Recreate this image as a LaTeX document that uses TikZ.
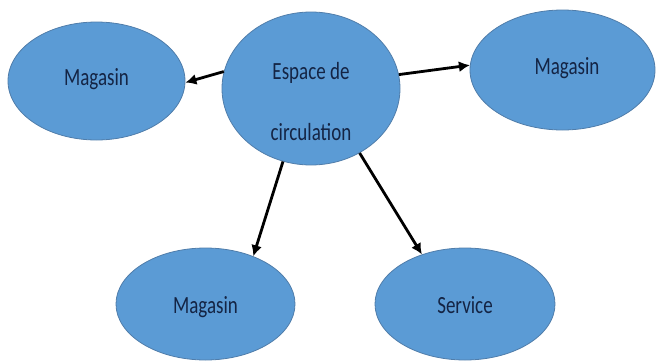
\documentclass[tikz,border=0pt]{standalone}
\usepackage{fontspec}
\setmainfont{Carlito}
\usepackage{graphicx}
\usepackage{tikz}
\usetikzlibrary{shapes.geometric, arrows.meta, positioning, calc}
\definecolor{zoneblue}{RGB}{91,155,213}
\definecolor{zoneedge}{RGB}{80,125,170}
\definecolor{labelnavy}{RGB}{20,36,68}
\newcommand{\tallword}[1]{\scalebox{1}[1.3]{#1}}

\begin{document}
\begin{tikzpicture}[x=1pt,y=-1pt,
  zone/.style={ellipse, fill=zoneblue, draw=zoneedge, line width=0.8pt, inner sep=0pt},
  txt/.style={anchor=base, text=labelnavy, font=\fontsize{19}{23}\selectfont},
  link/.style={line width=2.8pt, -{Latex[length=11pt,width=11pt]}}]
  \useasboundingbox (0,0) rectangle (656,362);
  % central zone
  \node[zone, minimum width=178pt, minimum height=153pt,
        label={[txt, yshift=15.5pt]center:\tallword{Espace de}},
        label={[txt, yshift=-43.5pt]center:\tallword{circulation}}] (espace) at (311,88.5) {};
  % surrounding zones
  \node[zone, minimum width=177pt, minimum height=118pt,
        label={[txt, yshift=2pt]center:\tallword{Magasin}}] (magouest) at (96.5,81) {};
  \node[zone, minimum width=185pt, minimum height=120pt,
        label={[txt, xshift=4.5pt, yshift=2pt]center:\tallword{Magasin}}] (magest) at (562.5,70) {};
  \node[zone, minimum width=179pt, minimum height=112pt,
        label={[txt, yshift=-3pt]center:\tallword{Magasin}}] (magsud) at (205.5,304) {};
  \node[zone, minimum width=180pt, minimum height=112pt,
        label={[txt, yshift=-1pt]center:\tallword{Service}}] (service) at (465,304) {};
  % links
  \draw[link] (espace.169) -- (magouest.-1);
  \draw[link] (espace.9) -- (magest.177);
  \draw[link] (espace.249) -- (magsud.45);
  \draw[link] (espace.-53) -- (service.131);
\end{tikzpicture}
\end{document}
